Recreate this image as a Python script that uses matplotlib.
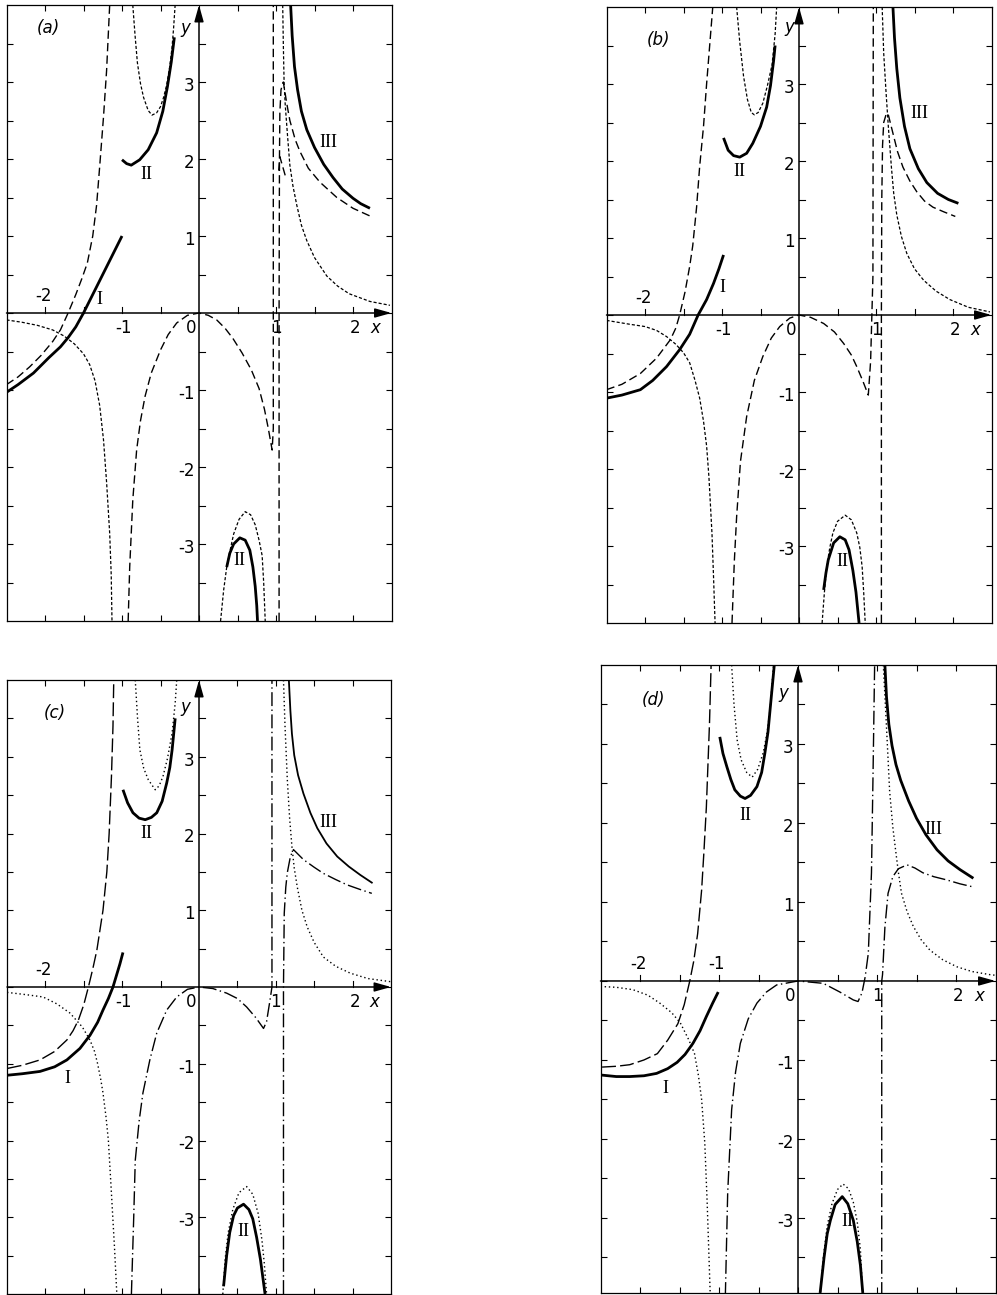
"""Four-panel comparison of solution branches I, II, III with two approximations."""

import matplotlib
matplotlib.use("Agg")
import matplotlib.pyplot as plt
import numpy as np

# ---------------- panel (a) ----------------
A_I = [(-2.5, -1.03), (-2.35, -0.93), (-2.15, -0.78), (-1.95, -0.58), (-1.8, -0.44),
       (-1.7, -0.32), (-1.6, -0.18), (-1.5, 0.0), (-1.25, 0.5), (-1.0, 1.0)]
A_II_UP = [(-1.0, 1.99), (-0.94, 1.94), (-0.88, 1.92), (-0.77, 1.99), (-0.66, 2.12),
           (-0.55, 2.34), (-0.47, 2.62), (-0.41, 2.94), (-0.36, 3.26), (-0.32, 3.58)]
A_II_LO = [(0.36, -3.3), (0.4, -3.12), (0.45, -3.0), (0.53, -2.92), (0.6, -2.95),
           (0.66, -3.08), (0.7, -3.3), (0.73, -3.55), (0.75, -3.8), (0.76, -4.0)]
A_III = [(1.19, 4.0), (1.21, 3.6), (1.24, 3.2), (1.28, 2.9), (1.33, 2.62), (1.4, 2.38),
         (1.5, 2.15), (1.62, 1.93), (1.74, 1.76), (1.86, 1.61), (2.0, 1.49), (2.1, 1.42),
         (2.22, 1.36)]
A_L1 = [(-2.5, -0.93), (-2.35, -0.83), (-2.2, -0.7), (-2.05, -0.55), (-1.9, -0.37),
        (-1.8, -0.22), (-1.7, 0.0), (-1.6, 0.24), (-1.52, 0.45), (-1.45, 0.65),
        (-1.38, 1.0), (-1.33, 1.4), (-1.29, 1.9), (-1.24, 2.55), (-1.2, 3.15), (-1.16, 4.0)]
A_L2 = [(-0.92, -4.0), (-0.9, -3.3), (-0.86, -2.43), (-0.81, -1.78), (-0.76, -1.4),
        (-0.7, -1.08), (-0.62, -0.78), (-0.5, -0.48), (-0.4, -0.28), (-0.29, -0.13),
        (-0.15, -0.03), (0.0, 0.0), (0.12, -0.03), (0.23, -0.09), (0.34, -0.2),
        (0.44, -0.33), (0.56, -0.52), (0.68, -0.74), (0.78, -0.98), (0.85, -1.25),
        (0.9, -1.5), (0.95, -1.78), (0.965, -1.5), (0.965, 4.0)]
A_L3 = [(1.04, -4.0), (1.04, 0.0), (1.045, 2.0), (1.05, 2.6), (1.065, 2.9), (1.095, 3.0),
        (1.14, 2.72), (1.18, 2.5), (1.25, 2.25), (1.31, 2.1), (1.42, 1.88), (1.57, 1.7),
        (1.79, 1.5), (2.0, 1.36), (2.22, 1.26)]
A_L4 = [(1.035, 1.85), (1.05, 2.03), (1.13, 1.75)]
A_S1 = [(-2.5, -0.09), (-2.3, -0.12), (-2.1, -0.16), (-1.9, -0.22), (-1.75, -0.3),
        (-1.62, -0.4), (-1.5, -0.53), (-1.42, -0.67), (-1.35, -0.88), (-1.29, -1.2),
        (-1.24, -1.65), (-1.2, -2.2), (-1.16, -2.86), (-1.14, -3.4), (-1.13, -4.0)]
A_S2 = [(-0.86, 4.0), (-0.83, 3.6), (-0.8, 3.25), (-0.76, 2.98), (-0.72, 2.8),
        (-0.66, 2.63), (-0.61, 2.57), (-0.55, 2.6), (-0.5, 2.68), (-0.46, 2.8),
        (-0.42, 2.96), (-0.38, 3.2), (-0.35, 3.45), (-0.33, 3.7), (-0.31, 4.0)]
A_S3 = [(0.28, -4.0), (0.32, -3.6), (0.36, -3.3), (0.4, -3.1), (0.45, -2.87),
        (0.52, -2.68), (0.6, -2.58), (0.67, -2.62), (0.73, -2.75), (0.78, -2.95),
        (0.82, -3.15), (0.84, -3.5), (0.86, -4.0)]
A_S4 = [(1.087, 4.0), (1.095, 3.5), (1.105, 3.0), (1.12, 2.7), (1.15, 2.3),
        (1.18, 1.92), (1.22, 1.65), (1.27, 1.4), (1.33, 1.14), (1.4, 0.94), (1.5, 0.72),
        (1.66, 0.48), (1.8, 0.35), (1.95, 0.25), (2.22, 0.15), (2.48, 0.1)]

# ---------------- panel (b) ----------------
B_I = [(-2.5, -1.08), (-2.3, -1.04), (-2.06, -0.97), (-1.9, -0.85), (-1.72, -0.67),
       (-1.55, -0.45), (-1.42, -0.25), (-1.31, 0.0), (-1.2, 0.2), (-1.11, 0.41),
       (-1.04, 0.6), (-0.98, 0.78)]
B_II_UP = [(-0.98, 2.3), (-0.92, 2.14), (-0.85, 2.07), (-0.77, 2.05), (-0.68, 2.1),
           (-0.6, 2.23), (-0.5, 2.45), (-0.42, 2.7), (-0.37, 2.98), (-0.33, 3.3),
           (-0.31, 3.5)]
B_II_LO = [(0.32, -3.57), (0.35, -3.35), (0.38, -3.18), (0.45, -2.96), (0.53, -2.88),
           (0.6, -2.92), (0.65, -3.05), (0.7, -3.32), (0.74, -3.6), (0.78, -4.0)]
B_III = [(1.22, 4.0), (1.24, 3.6), (1.27, 3.2), (1.31, 2.82), (1.37, 2.45), (1.44, 2.16),
         (1.55, 1.9), (1.66, 1.72), (1.8, 1.58), (1.94, 1.5), (2.07, 1.45)]
B_L1 = [(-2.5, -0.97), (-2.3, -0.9), (-2.06, -0.76), (-1.85, -0.56), (-1.67, -0.32),
        (-1.6, -0.17), (-1.55, 0.0), (-1.48, 0.3), (-1.42, 0.63), (-1.38, 0.9),
        (-1.33, 1.4), (-1.29, 1.93), (-1.24, 2.45), (-1.2, 3.0), (-1.16, 3.5), (-1.12, 4.0)]
B_L2 = [(-0.87, -4.0), (-0.84, -3.2), (-0.81, -2.62), (-0.76, -1.9), (-0.68, -1.32),
        (-0.58, -0.85), (-0.47, -0.54), (-0.36, -0.3), (-0.25, -0.15), (-0.12, -0.04),
        (0.0, 0.0), (0.15, -0.03), (0.32, -0.11), (0.46, -0.22), (0.58, -0.37),
        (0.68, -0.52), (0.75, -0.67), (0.83, -0.86), (0.9, -1.04), (0.93, -0.6),
        (0.96, 0.5), (0.965, 4.0)]
B_L3 = [(1.07, -4.0), (1.07, 0.0), (1.075, 1.5), (1.085, 2.2), (1.1, 2.5), (1.13, 2.6),
        (1.155, 2.62), (1.18, 2.52), (1.22, 2.36), (1.28, 2.12), (1.35, 1.92),
        (1.44, 1.74), (1.53, 1.6), (1.63, 1.48), (1.74, 1.4), (1.88, 1.34), (2.03, 1.28)]
B_S1 = [(-2.5, -0.07), (-2.2, -0.12), (-2.0, -0.15), (-1.85, -0.2), (-1.72, -0.28),
        (-1.6, -0.38), (-1.5, -0.49), (-1.42, -0.62), (-1.35, -0.85), (-1.29, -1.08),
        (-1.24, -1.38), (-1.2, -1.7), (-1.17, -2.1), (-1.13, -2.84), (-1.11, -3.4),
        (-1.09, -4.0)]
B_S2 = [(-0.81, 4.0), (-0.77, 3.55), (-0.72, 3.1), (-0.67, 2.8), (-0.62, 2.63),
        (-0.58, 2.6), (-0.53, 2.63), (-0.47, 2.75), (-0.41, 2.98), (-0.35, 3.25),
        (-0.31, 3.65), (-0.29, 4.0)]
B_S3 = [(0.3, -4.0), (0.33, -3.6), (0.36, -3.27), (0.4, -3.02), (0.44, -2.83),
        (0.5, -2.68), (0.6, -2.6), (0.68, -2.66), (0.75, -2.83), (0.79, -3.02),
        (0.82, -3.27), (0.84, -3.6), (0.86, -4.0)]
B_S4 = [(1.08, 4.0), (1.1, 3.4), (1.13, 2.9), (1.16, 2.45), (1.2, 1.92), (1.23, 1.58),
        (1.27, 1.3), (1.33, 1.02), (1.4, 0.8), (1.5, 0.6), (1.62, 0.45), (1.78, 0.31),
        (1.96, 0.2), (2.2, 0.1), (2.48, 0.04)]

# ---------------- panel (c) ----------------
C_I = [(-2.5, -1.15), (-2.3, -1.13), (-2.07, -1.1), (-1.88, -1.04), (-1.72, -0.95),
       (-1.55, -0.8), (-1.42, -0.63), (-1.32, -0.46), (-1.25, -0.3), (-1.18, -0.15),
       (-1.12, 0.0), (-1.03, 0.3), (-0.99, 0.45)]
C_II_UP = [(-0.99, 2.57), (-0.93, 2.4), (-0.86, 2.27), (-0.78, 2.2), (-0.7, 2.18),
           (-0.62, 2.21), (-0.55, 2.27), (-0.48, 2.42), (-0.42, 2.66), (-0.38, 2.86),
           (-0.35, 3.09), (-0.31, 3.5)]
C_II_LO = [(0.32, -3.9), (0.36, -3.5), (0.4, -3.2), (0.45, -2.98), (0.5, -2.88),
           (0.58, -2.83), (0.65, -2.9), (0.7, -3.02), (0.75, -3.26), (0.8, -3.55),
           (0.84, -3.85), (0.86, -4.0)]
C_III = [(1.17, 4.0), (1.19, 3.6), (1.21, 3.3), (1.24, 3.02), (1.29, 2.76), (1.36, 2.52),
         (1.45, 2.27), (1.54, 2.07), (1.66, 1.87), (1.8, 1.7), (1.95, 1.57), (2.1, 1.46),
         (2.25, 1.36)]
C_L1 = [(-2.49, -1.06), (-2.3, -1.02), (-2.07, -0.95), (-1.88, -0.84), (-1.72, -0.69),
        (-1.64, -0.57), (-1.57, -0.43), (-1.5, -0.23), (-1.44, 0.0), (-1.38, 0.25),
        (-1.33, 0.48), (-1.25, 1.0), (-1.2, 1.5), (-1.17, 2.0), (-1.14, 2.74),
        (-1.12, 3.4), (-1.11, 4.0)]
C_L2 = [(-0.88, -4.0), (-0.85, -3.0), (-0.83, -2.26), (-0.78, -1.75), (-0.73, -1.38),
        (-0.64, -0.95), (-0.55, -0.6), (-0.42, -0.3), (-0.29, -0.13), (-0.15, -0.03),
        (0.0, 0.0), (0.18, -0.02), (0.36, -0.08), (0.5, -0.15), (0.62, -0.26),
        (0.74, -0.4), (0.84, -0.54), (0.88, -0.45), (0.92, -0.2), (0.95, 0.0), (0.95, 4.0)]
C_L3 = [(1.1, -4.0), (1.1, 0.0), (1.11, 0.96), (1.13, 1.3), (1.15, 1.49), (1.19, 1.7),
        (1.23, 1.79), (1.3, 1.72), (1.36, 1.66), (1.5, 1.56), (1.62, 1.48), (1.78, 1.4),
        (1.93, 1.33), (2.1, 1.27), (2.25, 1.22)]
C_S1 = [(-2.5, -0.07), (-2.25, -0.1), (-2.03, -0.13), (-1.85, -0.22), (-1.68, -0.34),
        (-1.52, -0.52), (-1.42, -0.69), (-1.36, -0.84), (-1.32, -1.0), (-1.28, -1.2),
        (-1.25, -1.38), (-1.21, -1.7), (-1.18, -2.0), (-1.14, -2.69), (-1.1, -3.4),
        (-1.07, -4.0)]
C_S2 = [(-0.83, 4.0), (-0.8, 3.5), (-0.77, 3.09), (-0.72, 2.85), (-0.66, 2.7),
        (-0.57, 2.57), (-0.52, 2.62), (-0.47, 2.74), (-0.41, 2.98), (-0.35, 3.31),
        (-0.31, 3.7), (-0.29, 4.0)]
C_S3 = [(0.31, -4.0), (0.34, -3.55), (0.38, -3.2), (0.44, -2.9), (0.52, -2.68),
        (0.62, -2.6), (0.7, -2.7), (0.77, -2.95), (0.82, -3.3), (0.85, -3.6), (0.88, -4.0)]
C_S4 = [(1.1, 4.0), (1.12, 3.4), (1.15, 2.7), (1.18, 2.2), (1.21, 1.83), (1.24, 1.55),
        (1.28, 1.3), (1.34, 1.0), (1.41, 0.78), (1.5, 0.58), (1.62, 0.39), (1.78, 0.27),
        (1.97, 0.18), (2.2, 0.11), (2.49, 0.07)]

# ---------------- panel (d) ----------------
D_I = [(-2.5, -1.19), (-2.3, -1.21), (-2.13, -1.21), (-1.95, -1.2), (-1.79, -1.17),
       (-1.65, -1.11), (-1.53, -1.03), (-1.43, -0.93), (-1.33, -0.79), (-1.24, -0.63),
       (-1.16, -0.45), (-1.08, -0.28), (-1.01, -0.14)]
D_II_UP = [(-0.99, 3.09), (-0.95, 2.88), (-0.9, 2.71), (-0.85, 2.55), (-0.8, 2.42),
           (-0.73, 2.34), (-0.67, 2.31), (-0.6, 2.35), (-0.52, 2.46), (-0.46, 2.64),
           (-0.42, 2.88), (-0.38, 3.15), (-0.35, 3.47), (-0.3, 4.0)]
D_II_LO = [(0.28, -3.95), (0.33, -3.5), (0.37, -3.2), (0.41, -3.03), (0.47, -2.83),
           (0.56, -2.73), (0.63, -2.82), (0.7, -3.03), (0.75, -3.3), (0.79, -3.6),
           (0.82, -3.95)]
D_III = [(1.1, 4.0), (1.12, 3.6), (1.15, 3.25), (1.19, 2.98), (1.24, 2.74), (1.3, 2.54),
         (1.4, 2.28), (1.5, 2.06), (1.62, 1.85), (1.76, 1.66), (1.9, 1.52), (2.05, 1.41),
         (2.22, 1.3)]
D_L1 = [(-2.48, -1.09), (-2.3, -1.08), (-2.13, -1.06), (-1.95, -1.0), (-1.78, -0.92),
        (-1.65, -0.75), (-1.52, -0.54), (-1.44, -0.3), (-1.37, 0.0), (-1.32, 0.25),
        (-1.27, 0.6), (-1.22, 1.15), (-1.19, 1.65), (-1.16, 2.2), (-1.12, 3.27), (-1.1, 4.0)]
D_L2 = [(-0.92, -4.0), (-0.89, -2.68), (-0.84, -1.63), (-0.79, -1.15), (-0.73, -0.79),
        (-0.63, -0.48), (-0.52, -0.28), (-0.4, -0.14), (-0.27, -0.05), (0.0, 0.0),
        (0.32, -0.03), (0.53, -0.14), (0.7, -0.24), (0.76, -0.26), (0.81, -0.15),
        (0.85, 0.05), (0.89, 0.35), (0.93, 1.37), (0.95, 2.63), (0.97, 4.0)]
D_L3 = [(1.06, -4.0), (1.06, 0.0), (1.07, 0.08), (1.1, 0.68), (1.14, 1.11), (1.2, 1.32),
        (1.27, 1.42), (1.38, 1.47), (1.48, 1.43), (1.58, 1.37), (1.72, 1.32),
        (1.88, 1.28), (2.05, 1.23), (2.22, 1.19)]
D_S1 = [(-2.5, -0.07), (-2.3, -0.08), (-2.09, -0.11), (-1.9, -0.18), (-1.75, -0.28),
        (-1.6, -0.4), (-1.49, -0.53), (-1.38, -0.75), (-1.31, -0.92), (-1.26, -1.2),
        (-1.22, -1.5), (-1.18, -2.05), (-1.15, -2.8), (-1.13, -3.4), (-1.11, -4.0)]
D_S2 = [(-0.84, 4.0), (-0.81, 3.5), (-0.77, 3.05), (-0.72, 2.8), (-0.65, 2.64),
        (-0.58, 2.58), (-0.51, 2.68), (-0.44, 2.89), (-0.39, 3.15), (-0.35, 3.47),
        (-0.31, 4.0)]
D_S3 = [(0.28, -4.0), (0.32, -3.5), (0.37, -3.1), (0.43, -2.82), (0.5, -2.64),
        (0.57, -2.57), (0.64, -2.63), (0.7, -2.8), (0.75, -3.05), (0.79, -3.4), (0.82, -4.0)]
D_S4 = [(1.08, 4.0), (1.12, 3.22), (1.16, 2.4), (1.2, 1.95), (1.23, 1.7), (1.27, 1.38),
        (1.31, 1.11), (1.38, 0.88), (1.46, 0.69), (1.56, 0.52), (1.67, 0.39), (1.83, 0.27),
        (2.01, 0.18), (2.2, 0.12), (2.43, 0.08), (2.52, 0.07)]

# branch labels: (text, x, y)
A_NUM = [("I", -1.29, 0.17), ("II", -0.68, 1.8), ("III", 1.68, 2.22), ("II", 0.53, -3.21)]
B_NUM = [("I", -0.99, 0.36), ("II", -0.77, 1.86), ("III", 1.57, 2.62), ("II", 0.56, -3.2)]
C_NUM = [("I", -1.72, -1.19), ("II", -0.68, 2.0), ("III", 1.68, 2.14), ("II", 0.58, -3.19)]
D_NUM = [("I", -1.68, -1.36), ("II", -0.67, 2.1), ("III", 1.72, 1.92), ("II", 0.62, -3.05)]

STYLES = {
    "thick": dict(color="k", lw=2.0, ls="-", solid_capstyle="butt"),
    "thin": dict(color="k", lw=1.3, ls="-"),
    "long": dict(color="k", lw=1.0, ls=(0, (6, 3))),
    "fine": dict(color="k", lw=0.9, ls=(0, (2.5, 1.6))),
    "dashdot": dict(color="k", lw=1.0, ls=(0, (10, 2.5, 1, 2.5))),
    "dlong": dict(color="k", lw=1.0, ls=(0, (10, 3))),
    "dot": dict(color="k", lw=1.0, ls=(0, (1, 2))),
}

PANELS = [
    # tag, axes rect in px (left, top, w, h), ylim, curves, numerals, tag/ylabel pos, "-1" above?
    ("(a)", (6.5, 5, 385, 616), (-4.0, 4.0),
     [(A_I, "thick"), (A_II_UP, "thick"), (A_II_LO, "thick"), (A_III, "thick"),
      (A_L1, "long"), (A_L2, "long"), (A_L3, "long"), (A_L4, "long"),
      (A_S1, "fine"), (A_S2, "fine"), (A_S3, "fine"), (A_S4, "fine")],
     A_NUM, (-1.96, 3.7), (-0.18, 3.7), False),
    ("(b)", (606.5, 7, 385, 616), (-4.0, 4.0),
     [(B_I, "thick"), (B_II_UP, "thick"), (B_II_LO, "thick"), (B_III, "thick"),
      (B_L1, "long"), (B_L2, "long"), (B_L3, "long"),
      (B_S1, "fine"), (B_S2, "fine"), (B_S3, "fine"), (B_S4, "fine")],
     B_NUM, (-1.83, 3.57), (-0.12, 3.74), False),
    ("(c)", (7, 680, 384, 614), (-4.0, 4.0),
     [(C_I, "thick"), (C_II_UP, "thick"), (C_II_LO, "thick"), (C_III, "thin"),
      (C_L1, "dlong"), (C_L2, "dashdot"), (C_L3, "dashdot"),
      (C_S1, "dot"), (C_S2, "dot"), (C_S3, "dot"), (C_S4, "dot")],
     C_NUM, (-1.88, 3.57), (-0.18, 3.65), False),
    ("(d)", (600.5, 665, 395, 628), (-3.95, 4.0),
     [(D_I, "thick"), (D_II_UP, "thick"), (D_II_LO, "thick"), (D_III, "thick"),
      (D_L1, "dlong"), (D_L2, "dashdot"), (D_L3, "dashdot"),
      (D_S1, "dot"), (D_S2, "dot"), (D_S3, "dot"), (D_S4, "dot")],
     D_NUM, (-1.83, 3.56), (-0.19, 3.64), True),
]

W, H = 997, 1295
SANS = "DejaVu Sans"
SERIF = "Liberation Serif"


def draw_panel(fig, tag, rect, ylim, curves, numerals, tag_xy, ylab_xy, m1_above):
    l, t, w, h = rect
    ax = fig.add_axes([l / W, 1 - (t + h) / H, w / W, h / H])
    x0, x1 = -2.5, 2.5
    ax.set_xlim(x0, x1)
    ax.set_ylim(*ylim)
    for s in ax.spines.values():
        s.set_linewidth(0.9)
    ax.set_xticks(np.arange(-2.0, 2.01, 0.5))
    ax.set_yticks(np.arange(-3.5, 3.51, 0.5))
    ax.tick_params(direction="in", length=4, width=0.8, top=True, right=True,
                   labelbottom=False, labelleft=False)

    for pts, kind in curves:
        x, y = np.array(pts).T
        ax.plot(x, y, **STYLES[kind])

    # coordinate axes with arrows
    arrow = dict(arrowstyle="-|>,head_length=0.5,head_width=0.14", lw=1.1,
                 color="k", shrinkA=0, shrinkB=0, mutation_scale=20)
    ax.annotate("", xy=(x1, 0), xytext=(x0, 0), arrowprops=arrow,
                annotation_clip=False)
    ax.annotate("", xy=(0, ylim[1]), xytext=(0, ylim[0]), arrowprops=arrow,
                annotation_clip=False)
    for v in np.arange(-2.0, 2.01, 0.5):
        if v != 0:
            ax.plot([v, v], [0, 0.08], color="k", lw=0.8)
    for v in np.arange(-3.5, 3.51, 0.5):
        if v != 0:
            ax.plot([0, 0.08], [v, v], color="k", lw=0.8)

    fs = 12
    ax.text(-2.02, 0.1, "-2", ha="center", va="bottom", fontsize=fs, family=SANS)
    if m1_above:
        ax.text(-1.03, 0.1, "-1", ha="center", va="bottom", fontsize=fs, family=SANS)
    else:
        ax.text(-0.98, -0.08, "-1", ha="center", va="top", fontsize=fs, family=SANS)
    for v, s in [(-0.1, "0"), (1.0, "1"), (2.03, "2")]:
        ax.text(v, -0.08, s, ha="center", va="top", fontsize=fs, family=SANS)
    ax.text(2.29, -0.08, "x", ha="center", va="top", fontsize=fs, family=SANS,
            style="italic")
    for v in [1, 2, 3, -1, -2, -3]:
        ax.text(-0.06, v - 0.05, str(v), ha="right", va="center", fontsize=fs,
                family=SANS)
    ax.text(*ylab_xy, "y", ha="center", va="center", fontsize=fs, family=SANS,
            style="italic")
    ax.text(*tag_xy, tag, ha="center", va="center", fontsize=fs, family=SANS,
            style="italic")
    for s, x, y in numerals:
        ax.text(x, y, s, ha="center", va="center", fontsize=13, family=SERIF)
    return ax


fig = plt.figure(figsize=(W / 100, H / 100), dpi=100)
for p in PANELS:
    draw_panel(fig, *p)
fig.savefig("out.png", dpi=100)
